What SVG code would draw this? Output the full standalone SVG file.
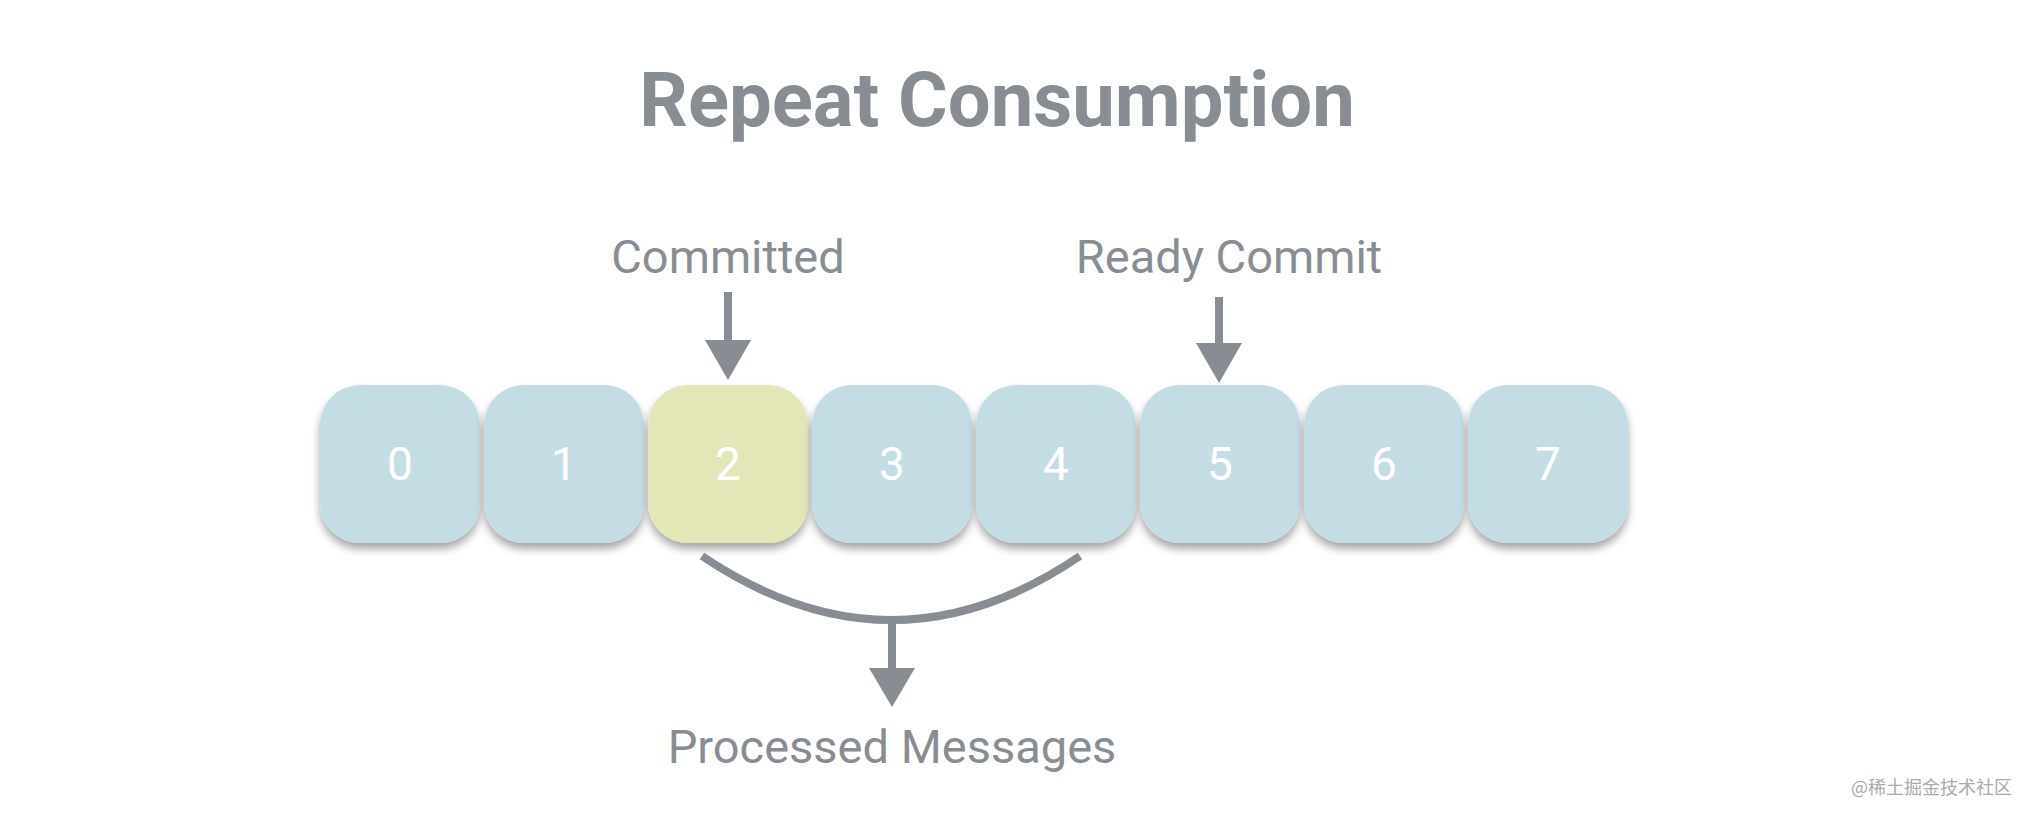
<svg xmlns="http://www.w3.org/2000/svg" width="2036" height="820" viewBox="0 0 2036 820">
<defs>
<filter id="sh" x="-20%" y="-20%" width="140%" height="150%">
<feDropShadow dx="0" dy="6" stdDeviation="4" flood-color="#000" flood-opacity="0.35"/>
</filter>
</defs>
<style>
.b{fill:#c4dde5;filter:url(#sh)}
.y{fill:#e3e7b8}
.n{font-family:Roboto,"Liberation Sans",sans-serif;font-size:46px;font-weight:400;fill:#fff;text-anchor:middle}
.l{font-family:Roboto,"Liberation Sans",sans-serif;font-size:47px;fill:#878d92;text-anchor:middle}
.c{stroke:#878d92;stroke-width:8;fill:none}
.h{fill:#878d92}
</style>
<rect width="2036" height="820" fill="#fff"/>
<text x="997" y="126" font-family="Roboto,'Liberation Sans',sans-serif" font-size="76" font-weight="bold" fill="#878d92" text-anchor="middle">Repeat Consumption</text>
<text class="l" x="728" y="273">Committed</text>
<text class="l" x="1229" y="273">Ready Commit</text>
<text class="l" x="892" y="763">Processed Messages</text>
<g id="n0"><rect class="b" x="320" y="385" width="160" height="158" rx="40"/><text class="n" x="400" y="480">0</text></g>
<g id="n1"><rect class="b" x="484" y="385" width="160" height="158" rx="40"/><text class="n" x="564" y="480">1</text></g>
<g id="n2"><rect class="b y" x="648" y="385" width="160" height="158" rx="40"/><text class="n" x="728" y="480">2</text></g>
<g id="n3"><rect class="b" x="812" y="385" width="160" height="158" rx="40"/><text class="n" x="892" y="480">3</text></g>
<g id="n4"><rect class="b" x="976" y="385" width="160" height="158" rx="40"/><text class="n" x="1056" y="480">4</text></g>
<g id="n5"><rect class="b" x="1140" y="385" width="160" height="158" rx="40"/><text class="n" x="1220" y="480">5</text></g>
<g id="n6"><rect class="b" x="1304" y="385" width="160" height="158" rx="40"/><text class="n" x="1384" y="480">6</text></g>
<g id="n7"><rect class="b" x="1468" y="385" width="160" height="158" rx="40"/><text class="n" x="1548" y="480">7</text></g>
<g id="connectors">
<line class="c" x1="728" y1="292" x2="728" y2="342"/>
<polygon class="h" points="705,340 751,340 728,380"/>
<line class="c" x1="1219" y1="297" x2="1219" y2="345"/>
<polygon class="h" points="1196,343 1242,343 1219,383"/>
<path class="c" d="M702,556 Q892,684 1080,556"/>
<line class="c" x1="892" y1="618" x2="892" y2="670"/>
<polygon class="h" points="869,668 915,668 892,707"/>
</g>
<text x="2012" y="794" font-family="'Noto Sans CJK SC',sans-serif" font-size="18" fill="#aaa" text-anchor="end">@稀土掘金技术社区</text>
</svg>
